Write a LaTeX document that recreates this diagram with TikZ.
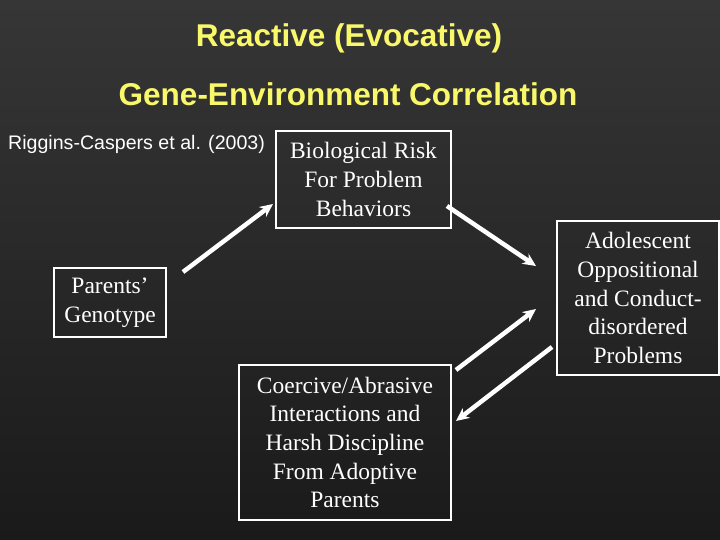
\documentclass[tikz,border=0pt]{standalone}
\usepackage{fontspec}
\setmainfont{Liberation Serif}
\newfontfamily\arialfont{Liberation Sans}
\usetikzlibrary{arrows.meta}
\definecolor{titleyellow}{HTML}{F8F86A}
\definecolor{bgtop}{HTML}{363636}
\definecolor{bgbot}{HTML}{1A1A1A}
\tikzset{
  box/.style={draw=white, line width=2.6pt, text=white, align=center, inner sep=0pt,
    font=\fontsize{23.5}{28.7}\selectfont},
  arr/.style={draw=white, line width=4.5pt, -{Stealth[length=13pt,width=12pt,inset=4pt]}},
  title/.style={text=titleyellow, font=\arialfont\bfseries\fontsize{31.5}{36}\selectfont, inner sep=0pt}
}
\begin{document}
\begin{tikzpicture}[x=1pt,y=-1pt]
\useasboundingbox (0,0) rectangle (720,540);
\shade[top color=bgtop, bottom color=bgbot] (0,0) rectangle (720,540);
\node[title] (t1) at (349,38) {Reactive (Evocative)};
\node[title] (t2) at (348,94) {Gene-Environment Correlation};
\node[text=white, inner sep=0pt, font=\arialfont\fontsize{19.6}{23}\selectfont, anchor=west] (ref) at (8,144) {Riggins-Caspers et al. (2003)};
\node[box, minimum width=175pt, minimum height=97pt] (bio) at (363.5,179.5) {Biological Risk\\For Problem\\Behaviors};
\node[box, minimum width=112pt, minimum height=69pt] (par) at (110,302.5) {Parents’\\Genotype\rule[-4pt]{0pt}{4pt}};
\node[box, minimum width=162pt, minimum height=154pt] (ado) at (638,298) {Adolescent\\Oppositional\\and Conduct-\\disordered\\Problems};
\node[box, minimum width=212pt, minimum height=155pt] (coe) at (345,442.5) {Coercive/Abrasive\\Interactions and\\Harsh Discipline\\From Adoptive\\Parents};
\coordinate (a1s) at (183,272);
\coordinate (a1e) at (273,204);
\coordinate (a2s) at (447,206);
\coordinate (a2e) at (536,266);
\coordinate (a3s) at (456,370);
\coordinate (a3e) at (536,309);
\coordinate (a4s) at (552,347);
\coordinate (a4e) at (456,421);
\draw[arr] (a1s) -- (a1e);
\draw[arr] (a2s) -- (a2e);
\draw[arr] (a3s) -- (a3e);
\draw[arr] (a4s) -- (a4e);
\end{tikzpicture}
\end{document}
